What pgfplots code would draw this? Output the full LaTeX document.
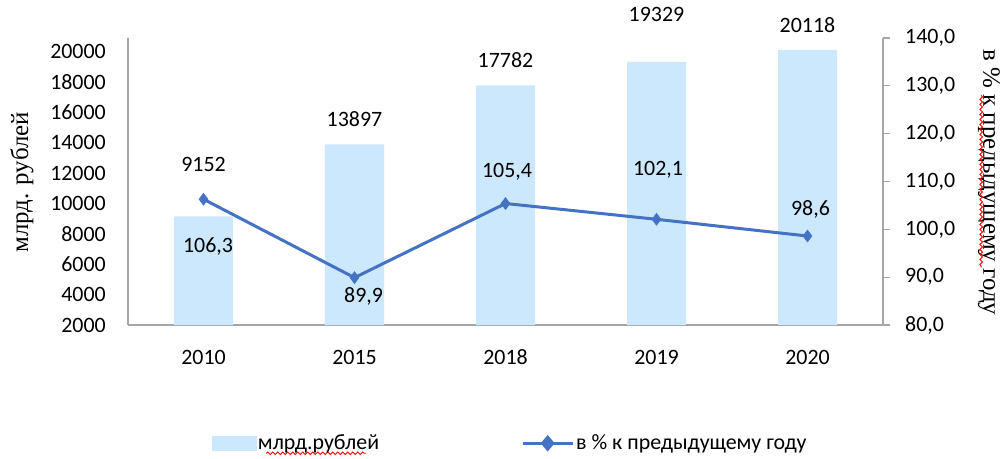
\documentclass[border=0pt]{standalone}
\usepackage{fontspec}
\setmainfont{Carlito}
\newfontfamily\serifru{Liberation Serif}
\usepackage{pgfplots}
\usetikzlibrary{decorations.pathmorphing}
\pgfplotsset{compat=1.18}
\definecolor{barblue}{RGB}{204,232,252}
\definecolor{lineblue}{RGB}{68,114,196}
\definecolor{axgray}{RGB}{166,166,166}
\begin{document}
\begin{tikzpicture}
\useasboundingbox (-128bp,-134bp) rectangle (880bp,325bp);
\begin{axis}[at={(0bp,0bp)}, anchor=south west, scale only axis, width=755bp, height=287bp,
 xmin=-0.5, xmax=4.5, ymin=2000, ymax=20900,
 xtick={0,...,4}, xticklabels={2010,2015,2018,2019,2020},
 ytick={2000,4000,...,20000},
 scaled y ticks=false,
 axis x line*=bottom, axis y line*=left,
 axis line style={axgray, line width=1.2bp, -},
 major tick length=0pt, tick style={draw=none},
 clip=false,
 font=\fontsize{22}{26}\selectfont,
 /pgf/number format/assume math mode=true,
 /pgf/number format/1000 sep={},
 yticklabel style={inner sep=0pt, xshift=-22bp},
 xticklabel style={inner sep=0pt, anchor=base, yshift=-39bp},
 ]
\addplot[ybar, bar width=59bp, fill=barblue, draw=none] coordinates {(0,9152)(1,13897)(2,17782)(3,19329)(4,20118)};
\node at (axis cs:0,12580) {9152};
\node at (axis cs:1,15535) {13897};
\node at (axis cs:2,19477) {17782};
\node at (axis cs:3,22434) {19329};
\node at (axis cs:4,21777) {20118};
\node[rotate=90, font=\serifru\fontsize{25}{28}\selectfont] at (rel axis cs:-0.1404,0.497) {млрд. рублей};
\node[rotate=-90, inner sep=0pt, font=\serifru\fontsize{25}{28}\selectfont] at (rel axis cs:1.1405,0.497) {в \% к предыдущему году};
\draw[red, line width=0.9bp, decorate, decoration={snake, amplitude=1.3bp, segment length=5bp}]
  (rel axis cs:1.1300,0.80) -- (rel axis cs:1.1300,0.20);
\end{axis}
\begin{axis}[at={(0bp,0bp)}, anchor=south west, scale only axis, width=755bp, height=287bp,
 xmin=-0.5, xmax=4.5, ymin=80, ymax=140,
 ytick={80,90,...,140},
 axis x line=none, axis y line*=right,
 axis line style={axgray, line width=1.2bp, -},
 tick align=outside, major tick length=7bp, tick style={axgray, line width=1.2bp},
 clip=false,
 font=\fontsize{22}{26}\selectfont,
 /pgf/number format/assume math mode=true,
 /pgf/number format/.cd, fixed, fixed zerofill, precision=1, use comma, /pgfplots/.cd,
 yticklabel style={inner sep=0pt, xshift=15bp},
 legend style={at={(0.506,-0.412)}, anchor=center, draw=none, fill=none,
   font=\fontsize{22}{26}\selectfont, inner sep=0pt},
 legend columns=2,
 legend cell align=left,
 /tikz/every even column/.append style={column sep=140bp},
 ]
\addlegendimage{legend image code/.code={\fill[barblue] (-6bp,-7bp) rectangle (38bp,7bp);}}
\addplot[lineblue, line width=3bp, mark=diamond*, mark size=6bp, mark options={fill=lineblue, line width=0.5bp},
 legend image code/.code={\draw[lineblue,line width=3bp] (0bp,0bp)--(50bp,0bp);
   \fill[lineblue] (25bp,6bp)--(30bp,0bp)--(25bp,-6bp)--(20bp,0bp)--cycle;}]
 coordinates {(0,106.3)(1,89.9)(2,105.4)(3,102.1)(4,98.6)};
\legend{млрд.рублей, в \% к предыдущему году}
\node at (axis cs:0.03,96.5) {106,3};
\node at (axis cs:1.06,86.0) {89,9};
\node at (axis cs:2.01,112.1) {105,4};
\node at (axis cs:3.01,112.5) {102,1};
\node at (axis cs:4.02,104.2) {98,6};
\draw[red, line width=0.9bp, decorate, decoration={snake, amplitude=1.3bp, segment length=5bp}]
  (rel axis cs:0.183,-0.447) -- (rel axis cs:0.315,-0.447);
\end{axis}
\end{tikzpicture}
\end{document}
